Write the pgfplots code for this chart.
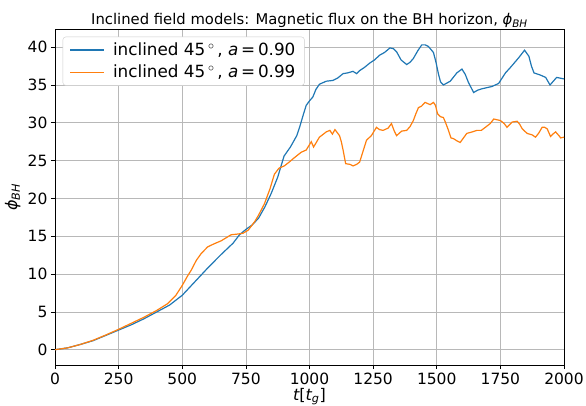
\documentclass[border=0pt]{standalone}
\usepackage{fontspec}
\setmainfont{DejaVu Sans}
\usepackage{pgfplots}
\pgfplotsset{compat=1.18}
\definecolor{tabblue}{HTML}{1F77B4}
\definecolor{taborange}{HTML}{FF7F0E}
\newcommand{\phiBH}{{\itshape ϕ}\textsubscript{\itshape BH}}
\begin{document}
\begin{tikzpicture}
\path[use as bounding box] (-55pt,-40pt) rectangle (531pt,365pt);
\begin{axis}[
 scale only axis, width=509pt, height=336pt,
 xmin=0, xmax=2000, ymin=-2.02, ymax=42.4,
 xtick={0,250,...,2000}, ytick={0,5,...,40},
 grid=major, major grid style={color=black!28, line width=0.7pt},
 tick align=outside, major tick length=4pt,
 tick style={black, line width=0.7pt},
 axis line style={line width=0.7pt},
 xtick pos=bottom, ytick pos=left,
 ticklabel style={font=\fontsize{15.5}{18}\selectfont},
 /pgf/number format/assume math mode=true,
 /pgf/number format/1000 sep={},
 title={Inclined field models: Magnetic flux on the BH horizon, \phiBH},
 title style={font=\fontsize{14.8}{16}\selectfont, at={(axis description cs:0.5,1)}, anchor=base, yshift=-1.5pt},
 xlabel={{\itshape t}[{\itshape t}\textsubscript{\itshape g}]},
 ylabel={\phiBH},
 label style={font=\fontsize{16}{18}\selectfont},
 xlabel style={at={(axis description cs:0.5,-0.094)}, anchor=center},
 ylabel style={at={(axis description cs:-0.083,0.5)}, anchor=center},
 legend style={at={(axis description cs:0.015,0.977)}, anchor=north west,
   font=\fontsize{16.8}{18}\selectfont, draw=black!20, rounded corners=3pt,
   fill=white, row sep=4pt,
   inner xsep=7pt, inner ysep=4pt},
 legend cell align=left,
 legend image code/.code={\draw[mark repeat=2,mark phase=2,#1] plot coordinates {(0pt,0pt) (17pt,0pt) (34pt,0pt)};},
]
\addplot[color=tabblue, line width=1.2pt] coordinates {
(0,0) (50,0.25) (100,0.7) (150,1.2) (200,1.9) (250,2.6) (300,3.3) (350,4.1)
(400,5.0) (450,5.9) (500,7.2) (550,9.0) (600,10.8) (650,12.5) (700,14.1)
(725,15.2) (750,15.9) (775,16.5) (800,17.4) (825,18.9) (850,20.7) (875,22.8)
(900,25.6) (925,26.8) (950,28.3) (961,29.4) (975,31.0) (987,32.3) (1000,32.9)
(1013,33.4) (1025,34.4) (1039,35.1) (1066,35.5) (1092,35.6) (1110,35.9)
(1132,36.5) (1150,36.6) (1171,36.8) (1185,36.5) (1197,36.9) (1215,37.3)
(1237,37.9) (1255,38.3) (1276,38.95) (1295,39.3) (1316,39.9) (1330,39.8)
(1342,39.4) (1360,38.3) (1382,37.7) (1395,38.0) (1408,38.5) (1425,39.5)
(1441,40.3) (1455,40.3) (1467,40.1) (1487,39.3) (1497,38.0) (1507,36.4)
(1515,35.4) (1526,35.0) (1553,35.5) (1579,36.6) (1599,37.1) (1612,36.4)
(1625,35.3) (1645,34.0) (1660,34.3) (1678,34.5) (1717,34.8) (1743,35.2)
(1770,36.6) (1789,37.3) (1822,38.6) (1845,39.6) (1862,38.8) (1872,37.5)
(1882,36.6) (1908,36.3) (1928,36.0) (1945,35.0) (1958,35.5) (1971,36.0)
(2000,35.8)
};
\addlegendentry{\hspace{6pt}inclined 45\,$^\circ$\,, {\itshape a}\,=\,0.90}
\addplot[color=taborange, line width=1.2pt] coordinates {
(0,0) (50,0.25) (100,0.7) (150,1.25) (200,1.95) (250,2.7) (300,3.5) (350,4.3)
(400,5.2) (443,6.1) (475,7.2) (500,8.5) (520,9.7) (535,10.5) (555,11.8)
(574,12.7) (600,13.6) (625,14.0) (653,14.4) (692,15.2) (720,15.3) (739,15.4)
(759,15.8) (784,16.9) (800,17.8) (823,19.3) (845,21.3) (862,23.2) (880,24.0)
(901,24.3) (920,24.8) (941,25.4) (967,26.1) (987,26.4) (1007,27.5) (1016,26.8)
(1039,28.1) (1066,28.8) (1080,29.0) (1090,28.5) (1100,29.1) (1118,28.3)
(1125,27.5) (1132,26.4) (1142,24.6) (1160,24.5) (1171,24.3) (1185,24.5)
(1197,24.8) (1210,26.2) (1224,27.7) (1243,28.3) (1263,29.4) (1275,29.1)
(1289,29.0) (1309,29.3) (1322,29.9) (1332,29.0) (1342,28.3) (1362,28.9)
(1382,29.0) (1395,29.5) (1408,30.3) (1418,31.2) (1428,32.0) (1440,32.2)
(1454,32.7) (1474,32.4) (1487,32.7) (1495,32.3) (1503,31.2) (1515,30.8)
(1526,30.7) (1535,30.0) (1546,29.0) (1556,28.0) (1566,27.9) (1580,27.6)
(1592,27.4) (1605,28.0) (1618,28.6) (1640,28.8) (1658,29.0) (1675,29.0)
(1691,29.4) (1710,29.9) (1724,30.5) (1750,30.3) (1765,29.9) (1776,29.4)
(1796,30.1) (1816,30.2) (1826,29.8) (1836,29.2) (1855,28.6) (1875,28.4)
(1888,28.1) (1900,28.6) (1914,29.4) (1924,29.4) (1934,29.2) (1947,28.2)
(1956,28.5) (1967,28.8) (1980,28.3) (1987,28.0) (2000,28.1)
};
\addlegendentry{\hspace{6pt}inclined 45\,$^\circ$\,, {\itshape a}\,=\,0.99}
\end{axis}
\end{tikzpicture}
\end{document}
